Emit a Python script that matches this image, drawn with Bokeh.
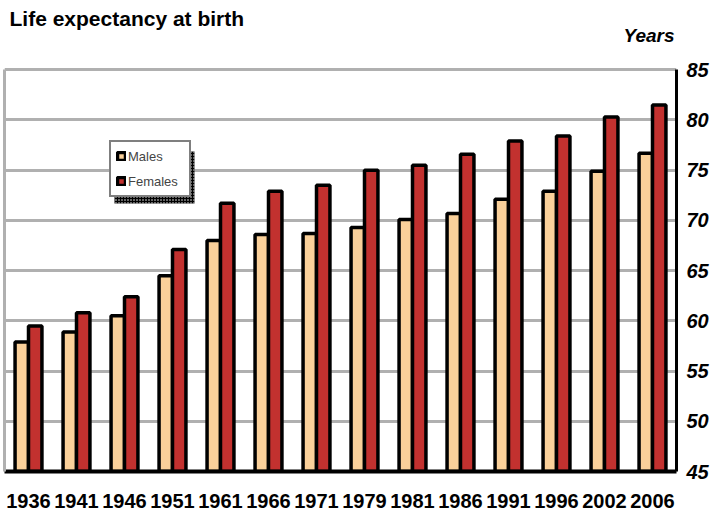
from bokeh.plotting import figure
from bokeh.models import (FactorRange, Range1d, SingleIntervalTicker, Legend, LegendItem,
                          LinearAxis, Label, BoxAnnotation, ColumnDataSource)
from bokeh.transform import dodge
from bokeh.embed import file_html
from bokeh.resources import INLINE

years = ["1936", "1941", "1946", "1951", "1961", "1966", "1971", "1979", "1981",
         "1986", "1991", "1996", "2002", "2006"]
males = [57.9, 58.9, 60.5, 64.5, 68.0, 68.6, 68.7, 69.3, 70.1, 70.7, 72.1, 72.9, 74.9, 76.7]
females = [59.5, 60.8, 62.4, 67.1, 71.7, 72.9, 73.5, 75.0, 75.5, 76.6, 77.9, 78.4, 80.3, 81.5]
axis_min, axis_max, y_step = 45, 85, 5
view_top = 91.5          # headroom above the value axis for the title texts

MALE_C = "#FAD09A"
FEMALE_C = "#C2312F"
GRID_C = "#b0b0b0"
FONT = "Liberation Sans"

src = ColumnDataSource(dict(year=years, males=males, females=females))

p = figure(x_range=FactorRange(factors=years), y_range=Range1d(axis_min, view_top),
           frame_width=672, frame_height=467, y_axis_location="right",
           output_backend="svg", toolbar_location=None, title=None,
           min_border_left=4, min_border_top=4, min_border_bottom=0, min_border_right=0)

p.background_fill_color = "white"
p.border_fill_color = "white"
p.outline_line_color = None

r_m = p.vbar(x=dodge("year", -0.14, range=p.x_range), top="males", bottom=axis_min, width=0.28,
             source=src, fill_color=MALE_C, line_color="black", line_width=3.5)
r_f = p.vbar(x=dodge("year", 0.14, range=p.x_range), top="females", bottom=axis_min, width=0.28,
             source=src, fill_color=FEMALE_C, line_color="black", line_width=3.5)

ticker = SingleIntervalTicker(interval=y_step, num_minor_ticks=0)
yax = p.yaxis[0]
yax.ticker = ticker
yax.bounds = (axis_min, axis_max)
yax.axis_line_color = "black"
yax.axis_line_width = 3
yax.major_tick_line_color = None
yax.minor_tick_line_color = None
yax.major_tick_out = 0
yax.major_tick_in = 0
yax.major_label_standoff = 10
yax.major_label_text_font = FONT
yax.major_label_text_font_size = "20px"
yax.major_label_text_font_style = "bold italic"
yax.major_label_text_color = "black"

left_line = LinearAxis(ticker=ticker, bounds=(axis_min, axis_max),
                       axis_line_color=GRID_C, axis_line_width=3,
                       major_tick_line_color=None, minor_tick_line_color=None,
                       major_tick_out=0, major_tick_in=0, major_label_standoff=0,
                       major_label_text_font_size="0px", major_label_text_alpha=0)
p.add_layout(left_line, "left")

xax = p.xaxis[0]
xax.axis_line_color = "black"
xax.axis_line_width = 4
xax.major_tick_line_color = None
xax.major_tick_out = 0
xax.major_tick_in = 0
xax.major_label_standoff = 22
xax.major_label_text_font = FONT
xax.major_label_text_font_size = "20px"
xax.major_label_text_font_style = "bold"
xax.major_label_text_color = "black"

p.xgrid.grid_line_color = None
p.ygrid.ticker = ticker
p.ygrid.bounds = (axis_min, axis_max)
p.ygrid.grid_line_color = GRID_C
p.ygrid.grid_line_width = 3

shadow = BoxAnnotation(left=110, right=190, bottom=268, top=320,
                       left_units="screen", right_units="screen",
                       bottom_units="screen", top_units="screen",
                       fill_color="black", fill_alpha=1.0, line_color=None,
                       hatch_pattern=".", hatch_color="white", hatch_scale=3)
p.add_layout(shadow)

legend = Legend(items=[LegendItem(label="Males", renderers=[r_m]),
                       LegendItem(label="Females", renderers=[r_f])],
                location=(105, 274), border_line_color="black", border_line_width=2,
                background_fill_color="white", background_fill_alpha=1.0,
                label_text_font=FONT, label_text_font_size="13px",
                glyph_width=10, glyph_height=10, label_standoff=2,
                label_height=18, spacing=7, padding=5, margin=0, label_width=56)
p.add_layout(legend)

title_lbl = Label(x=5, y=90.1, x_units="screen", text="Life expectancy  at birth",
                  text_font=FONT, text_font_size="21px", text_font_style="bold",
                  text_baseline="middle", text_align="left", text_color="black")
years_lbl = Label(x=670, y=88.4, x_units="screen", text="Years",
                  text_font=FONT, text_font_size="19px", text_font_style="bold italic",
                  text_baseline="middle", text_align="right", text_color="black")
p.add_layout(title_lbl)
p.add_layout(years_lbl)

open("out.html", "w").write(file_html(p, INLINE))
